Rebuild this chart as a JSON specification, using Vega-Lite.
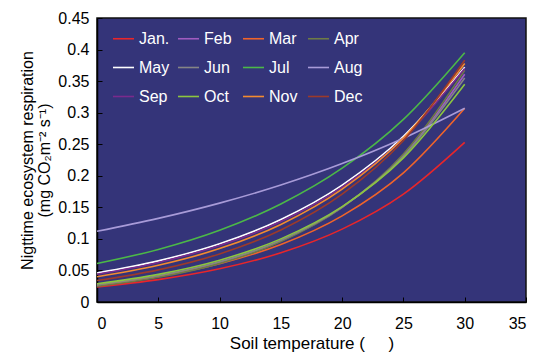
{
  "$schema": "https://vega.github.io/schema/vega-lite/v6.json",
  "autosize": {"type": "none"},
  "padding": {"left": 97, "top": 18, "right": 12, "bottom": 52},
  "width": 429,
  "height": 284,
  "background": "white",
  "config": {
    "font": "Liberation Sans",
    "view": {"fill": "#343479", "stroke": "#111", "strokeWidth": 1.5}
  },
  "data": {
    "values": [
      {"m": "Jan.", "t": 0, "r": 0.024}, {"m": "Jan.", "t": 5, "r": 0.0355}, {"m": "Jan.", "t": 10, "r": 0.0526}, {"m": "Jan.", "t": 15, "r": 0.078}, {"m": "Jan.", "t": 20, "r": 0.1155}, {"m": "Jan.", "t": 25, "r": 0.171}, {"m": "Jan.", "t": 30, "r": 0.253},
      {"m": "Feb", "t": 0, "r": 0.026}, {"m": "Feb", "t": 5, "r": 0.0403}, {"m": "Feb", "t": 10, "r": 0.0625}, {"m": "Feb", "t": 15, "r": 0.0968}, {"m": "Feb", "t": 20, "r": 0.15}, {"m": "Feb", "t": 25, "r": 0.233}, {"m": "Feb", "t": 30, "r": 0.361},
      {"m": "Mar", "t": 0, "r": 0.027}, {"m": "Mar", "t": 5, "r": 0.0405}, {"m": "Mar", "t": 10, "r": 0.0607}, {"m": "Mar", "t": 15, "r": 0.091}, {"m": "Mar", "t": 20, "r": 0.1365}, {"m": "Mar", "t": 25, "r": 0.2047}, {"m": "Mar", "t": 30, "r": 0.307},
      {"m": "Apr", "t": 0, "r": 0.025}, {"m": "Apr", "t": 5, "r": 0.0391}, {"m": "Apr", "t": 10, "r": 0.0612}, {"m": "Apr", "t": 15, "r": 0.0958}, {"m": "Apr", "t": 20, "r": 0.1499}, {"m": "Apr", "t": 25, "r": 0.2345}, {"m": "Apr", "t": 30, "r": 0.367},
      {"m": "May", "t": 0, "r": 0.046}, {"m": "May", "t": 5, "r": 0.0652}, {"m": "May", "t": 10, "r": 0.0923}, {"m": "May", "t": 15, "r": 0.1308}, {"m": "May", "t": 20, "r": 0.1853}, {"m": "May", "t": 25, "r": 0.2626}, {"m": "May", "t": 30, "r": 0.372},
      {"m": "Jun", "t": 0, "r": 0.027}, {"m": "Jun", "t": 5, "r": 0.0415}, {"m": "Jun", "t": 10, "r": 0.0637}, {"m": "Jun", "t": 15, "r": 0.0979}, {"m": "Jun", "t": 20, "r": 0.1504}, {"m": "Jun", "t": 25, "r": 0.2311}, {"m": "Jun", "t": 30, "r": 0.355},
      {"m": "Jul", "t": 0, "r": 0.061}, {"m": "Jul", "t": 5, "r": 0.0833}, {"m": "Jul", "t": 10, "r": 0.1137}, {"m": "Jul", "t": 15, "r": 0.1553}, {"m": "Jul", "t": 20, "r": 0.212}, {"m": "Jul", "t": 25, "r": 0.2894}, {"m": "Jul", "t": 30, "r": 0.395},
      {"m": "Aug", "t": 0, "r": 0.112}, {"m": "Aug", "t": 5, "r": 0.1325}, {"m": "Aug", "t": 10, "r": 0.1567}, {"m": "Aug", "t": 15, "r": 0.1854}, {"m": "Aug", "t": 20, "r": 0.2194}, {"m": "Aug", "t": 25, "r": 0.2595}, {"m": "Aug", "t": 30, "r": 0.307},
      {"m": "Sep", "t": 0, "r": 0.044}, {"m": "Sep", "t": 5, "r": 0.0627}, {"m": "Sep", "t": 10, "r": 0.0895}, {"m": "Sep", "t": 15, "r": 0.1276}, {"m": "Sep", "t": 20, "r": 0.182}, {"m": "Sep", "t": 25, "r": 0.2595}, {"m": "Sep", "t": 30, "r": 0.37},
      {"m": "Oct", "t": 0, "r": 0.029}, {"m": "Oct", "t": 5, "r": 0.0438}, {"m": "Oct", "t": 10, "r": 0.0662}, {"m": "Oct", "t": 15, "r": 0.1}, {"m": "Oct", "t": 20, "r": 0.1511}, {"m": "Oct", "t": 25, "r": 0.2283}, {"m": "Oct", "t": 30, "r": 0.345},
      {"m": "Nov", "t": 0, "r": 0.04}, {"m": "Nov", "t": 5, "r": 0.0582}, {"m": "Nov", "t": 10, "r": 0.0846}, {"m": "Nov", "t": 15, "r": 0.1229}, {"m": "Nov", "t": 20, "r": 0.1788}, {"m": "Nov", "t": 25, "r": 0.2599}, {"m": "Nov", "t": 30, "r": 0.378},
      {"m": "Dec", "t": 0, "r": 0.034}, {"m": "Dec", "t": 5, "r": 0.0509}, {"m": "Dec", "t": 10, "r": 0.0762}, {"m": "Dec", "t": 15, "r": 0.1141}, {"m": "Dec", "t": 20, "r": 0.1708}, {"m": "Dec", "t": 25, "r": 0.2558}, {"m": "Dec", "t": 30, "r": 0.383}
    ]
  },
  "mark": {"type": "line", "interpolate": "monotone", "strokeWidth": 1.6},
  "encoding": {
    "x": {
      "field": "t", "type": "quantitative",
      "scale": {"domain": [0, 35], "nice": false},
      "axis": {
        "values": [0, 5, 10, 15, 20, 25, 30, 35],
        "title": "Soil temperature (\u00a0\u00a0\u00a0\u00a0\u00a0)",
        "titleFont": "Liberation Sans", "titleFontSize": 17, "titleFontWeight": "normal", "titleColor": "#000", "titlePadding": 4,
        "labelFontSize": 16, "labelColor": "#000", "labelPadding": 18,
        "tickSize": -5, "tickColor": "#000", "domainColor": "#000", "domainWidth": 1.5,
        "grid": false
      }
    },
    "y": {
      "field": "r", "type": "quantitative",
      "scale": {"domain": [0, 0.45], "nice": false},
      "axis": {
        "values": [0, 0.05, 0.1, 0.15, 0.2, 0.25, 0.3, 0.35, 0.4, 0.45],
        "labelExpr": "datum.value == 0 ? '0' : format(datum.value, '.2~f')",
        "title": ["Nigttime ecosystem respiration", "(mg CO₂m⁻² s⁻¹)"],
        "titleFont": "Liberation Sans", "titleFontSize": 16, "titleFontWeight": "normal", "titleColor": "#000", "titlePadding": 5, "titleLineHeight": 17,
        "labelFontSize": 16, "labelColor": "#000", "labelPadding": 13,
        "tickSize": -5, "tickColor": "#000", "domainColor": "#000", "domainWidth": 1.5,
        "grid": false
      }
    },
    "color": {
      "field": "m", "type": "nominal", "sort": null,
      "scale": {
        "domain": ["Jan.", "Feb", "Mar", "Apr", "May", "Jun", "Jul", "Aug", "Sep", "Oct", "Nov", "Dec"],
        "range": ["#E8262A", "#A05CC0", "#F0642A", "#6E7B45", "#FFFFFF", "#858585", "#4CB848", "#A89BD8", "#7B2A8C", "#8CC63F", "#F38B2F", "#9C3A2A"]
      },
      "legend": {
        "title": null,
        "orient": "none", "legendX": 15, "legendY": 9,
        "columns": 4, "direction": "horizontal", "gridAlign": "all",
        "symbolType": "stroke", "symbolSize": 441, "symbolStrokeWidth": 1.6,
        "labelColor": "white", "labelFontSize": 16, "labelOffset": 4, "labelFont": "Liberation Sans",
        "rowPadding": 9, "columnPadding": 4, "padding": 0
      }
    }
  }
}
